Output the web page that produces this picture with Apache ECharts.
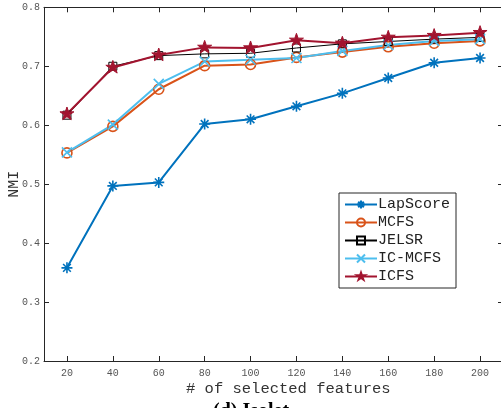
<!DOCTYPE html>
<html><head><meta charset="utf-8">
<script src="https://cdn.jsdelivr.net/npm/echarts@6/dist/echarts.min.js"></script>
<style>html,body{margin:0;padding:0;background:#fff}#c{width:501px;height:408px}</style>
</head><body><div id="c"></div>
<script>
const categories = [20, 40, 60, 80, 100, 120, 140, 160, 180, 200];
const lapScore = [0.358, 0.497, 0.503, 0.602, 0.610, 0.632, 0.654, 0.680, 0.706, 0.714];
const mcfs     = [0.553, 0.598, 0.661, 0.701, 0.703, 0.715, 0.724, 0.733, 0.739, 0.743];
const jelsr    = [0.617, 0.700, 0.718, 0.721, 0.722, 0.731, 0.738, 0.742, 0.746, 0.749];
const icmcfs   = [0.554, 0.601, 0.670, 0.708, 0.711, 0.714, 0.726, 0.736, 0.743, 0.746];
const icfs     = [0.619, 0.698, 0.719, 0.732, 0.731, 0.744, 0.739, 0.749, 0.752, 0.757];
const xTicks = [20, 40, 60, 80, 100, 120, 140, 160, 180, 200];
const yTicks = [0.2, 0.3, 0.4, 0.5, 0.6, 0.7, 0.8];

const mono = "'Liberation Mono', 'DejaVu Sans Mono', monospace";
const axisCol = '#262626';
const labelCol = '#555555';

const asterisk = 'path://M0,-1L0,1M-1,0L1,0M-0.7,-0.7L0.7,0.7M-0.7,0.7L0.7,-0.7';
const cross = 'path://M-1,-1L1,1M-1,1L1,-1';
const circle = 'path://M1,0A1,1,0,1,1,-1,0A1,1,0,1,1,1,0Z';
const square = 'path://M-1,-1L1,-1L1,1L-1,1Z';
const star = 'path://M0,-1L0.2245,-0.309L0.951,-0.309L0.363,0.118L0.588,0.809L0,0.382L-0.588,0.809L-0.363,0.118L-0.951,-0.309L-0.2245,-0.309Z M0,1';

function pairs(arr){ return categories.map((x,i)=>[x, arr[i]]); }

function mk(name, data, color, symbol, size, lw, filled){
  return {
    name, type:'line', data: pairs(data), symbol, symbolSize: size,
    lineStyle:{color, width: lw},
    itemStyle: filled ? {color, borderColor: color, borderWidth: 1} : {color: 'none', borderColor: color, borderWidth: lw === 1 ? 1 : 1.6},
    emphasis:{disabled:true}, animation:false, z: 3
  };
}

const chart = echarts.init(document.getElementById('c'), null, {renderer:'canvas'});
const xBase = {
  type:'value', min:10, max:210, interval:20,
  axisLine:{show:true, onZero:false, lineStyle:{color:axisCol, width:1}},
  axisTick:{show:true, inside:true, length:5, lineStyle:{color:axisCol}, customValues: xTicks},
  splitLine:{show:false}
};
const yBase = {
  type:'value', min:0.2, max:0.8, interval:0.1,
  axisLine:{show:true, onZero:false, lineStyle:{color:axisCol, width:1}},
  axisTick:{show:true, inside:true, length:5, lineStyle:{color:axisCol}},
  splitLine:{show:false}
};
chart.setOption({
  backgroundColor:'#fff',
  animation:false,
  grid:{left:44, top:7.3, right:-2, bottom:47, containLabel:false, outerBoundsMode:'none'},
  xAxis:[
    Object.assign({}, xBase, {position:'bottom',
      axisLabel:{show:true, color:labelCol, fontFamily:mono, fontSize:10, margin:7,
        customValues: xTicks, formatter: v => String(v)}}),
    Object.assign({}, xBase, {position:'top', axisLabel:{show:false}})
  ],
  yAxis:[
    Object.assign({}, yBase, {position:'left',
      name:'NMI', nameLocation:'middle', nameGap:22, nameMoveOverlap:false,
      nameTextStyle:{color:'#333', fontFamily:mono, fontSize:15},
      axisLabel:{show:true, color:labelCol, fontFamily:mono, fontSize:10, margin:4,
        formatter: v => v.toFixed(1)}}),
    Object.assign({}, yBase, {position:'right', axisLabel:{show:false}})
  ],
  legend:{
    orient:'vertical', left:339, top:193, width:118,
    backgroundColor:'#fff', borderColor:axisCol, borderWidth:1,
    padding:[4, 6, 4, 5], itemGap:3, itemWidth:32, itemHeight:10,
    textStyle:{color:'#222', fontFamily:mono, fontSize:15, padding:[0,0,0,-4]},
    data:['LapScore','MCFS','JELSR','IC-MCFS','ICFS']
  },
  graphic:[
    {type:'text', left:186, top:381, style:{text:'# of selected features', fill:'#333', font:"15.5px " + mono}},
    {type:'text', left:213, top:402, style:{text:'(d) Isolet', fill:'#000', font:"bold 20px 'Liberation Serif', 'Times New Roman', serif"}}
  ],
  series:[
    mk('LapScore', lapScore, '#0072BD', asterisk, 11, 2, false),
    mk('MCFS', mcfs, '#D95319', circle, 10, 2, false),
    mk('JELSR', jelsr, '#000000', square, 8, 1, false),
    mk('IC-MCFS', icmcfs, '#4DBEEE', cross, 10, 2, false),
    mk('ICFS', icfs, '#A2142F', star, 14, 2, true)
  ]
});
</script></body></html>
